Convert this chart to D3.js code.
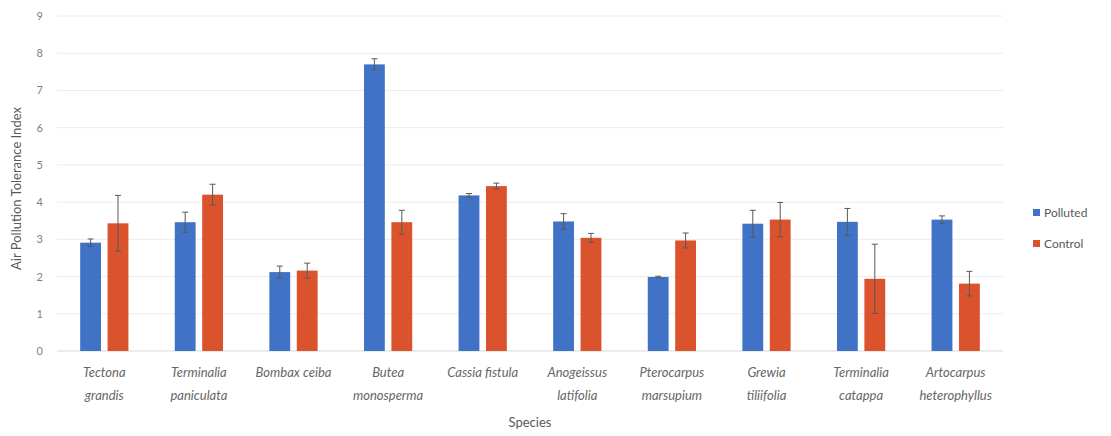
<!DOCTYPE html>
<html>
<head>
<meta charset="utf-8">
<script src="https://cdn.jsdelivr.net/npm/d3@7"></script>
<style>
  html, body { margin: 0; padding: 0; background: #fff; }
  svg { display: block; font-family: Lato, "Open Sans", sans-serif; }
</style>
</head>
<body>
<svg id="chart" width="1111" height="436"></svg>
<script>
// Species (two-line labels split on "\n")
const species = [
  "Tectona\ngrandis", "Terminalia\npaniculata", "Bombax ceiba", "Butea\nmonosperma",
  "Cassia fistula", "Anogeissus\nlatifolia", "Pterocarpus\nmarsupium", "Grewia\ntiliifolia",
  "Terminalia\ncatappa", "Artocarpus\nheterophyllus"
];
const seriesNames = ["Polluted", "Control"];
const polluted    = [2.91, 3.46, 2.12, 7.70, 4.18, 3.48, 1.99, 3.42, 3.47, 3.53];
const pollutedErr = [0.10, 0.27, 0.16, 0.15, 0.05, 0.21, 0.02, 0.36, 0.36, 0.10];
const control     = [3.43, 4.20, 2.16, 3.46, 4.43, 3.04, 2.97, 3.53, 1.94, 1.81];
const controlErr  = [0.75, 0.28, 0.20, 0.32, 0.08, 0.12, 0.20, 0.46, 0.93, 0.33];
const yTicks = [0, 1, 2, 3, 4, 5, 6, 7, 8, 9];

const colors = ["#4073C5", "#DA532C"];

const svg = d3.select("#chart");
const margin = { left: 57, right: 108, top: 16, bottom: 85 };
const W = 1111, H = 436;

const x = d3.scaleBand().domain(species).range([margin.left, W - margin.right]).paddingInner(0.49).paddingOuter(0.245);
const xInner = d3.scaleBand().domain(seriesNames).range([0, x.bandwidth()]).paddingInner(0.24);
const y = d3.scaleLinear().domain([0, 9]).range([H - margin.bottom, margin.top]);

// gridlines
svg.append("g")
  .selectAll("line").data(yTicks).join("line")
  .attr("x1", margin.left).attr("x2", W - margin.right)
  .attr("y1", d => y(d)).attr("y2", d => y(d))
  .attr("stroke", d => d === 0 ? "#d9d9d9" : "#ececec").attr("stroke-width", 1);

// y axis tick labels
const yAxis = svg.append("g")
  .attr("transform", `translate(${margin.left - 14},0)`)
  .call(d3.axisLeft(y).tickValues(yTicks).tickSize(0).tickPadding(0));
yAxis.select(".domain").remove();
yAxis.selectAll("text").attr("fill", "#7f7f7f").style("font-size", "11px").style("font-family", "Lato, sans-serif");

// bars
const data = species.map((s, i) => ({
  s, vals: [
    { k: "Polluted", v: polluted[i], e: pollutedErr[i] },
    { k: "Control", v: control[i], e: controlErr[i] }
  ]
}));

const groups = svg.append("g").selectAll("g").data(data).join("g")
  .attr("transform", d => `translate(${x(d.s)},0)`);

groups.selectAll("rect").data(d => d.vals).join("rect")
  .attr("x", d => xInner(d.k))
  .attr("width", xInner.bandwidth())
  .attr("y", d => y(d.v))
  .attr("height", d => y(0) - y(d.v))
  .attr("fill", (d, i) => colors[i]);

// error bars
const eb = groups.selectAll("g.err").data(d => d.vals).join("g").attr("class", "err")
  .attr("stroke", "#595959").attr("stroke-width", 1);
eb.append("line")
  .attr("x1", d => xInner(d.k) + xInner.bandwidth() / 2)
  .attr("x2", d => xInner(d.k) + xInner.bandwidth() / 2)
  .attr("y1", d => y(d.v + d.e)).attr("y2", d => y(d.v - d.e));
[1, -1].forEach(sg => {
  eb.append("line")
    .attr("x1", d => xInner(d.k) + xInner.bandwidth() / 2 - 3)
    .attr("x2", d => xInner(d.k) + xInner.bandwidth() / 2 + 3)
    .attr("y1", d => y(d.v + sg * d.e)).attr("y2", d => y(d.v + sg * d.e));
});

// x category labels
const xl = svg.append("g").selectAll("text").data(species).join("text")
  .attr("x", d => x(d) + x.bandwidth() / 2)
  .attr("y", 377)
  .attr("text-anchor", "middle")
  .attr("fill", "#666666")
  .style("font-size", "13px")
  .style("font-style", "italic");
xl.selectAll("tspan").data(d => d.split("\n")).join("tspan")
  .attr("x", function () { return d3.select(this.parentNode).attr("x"); })
  .attr("dy", (d, i) => i === 0 ? 0 : 23)
  .text(d => d);

// axis titles
svg.append("text")
  .attr("x", (margin.left + W - margin.right) / 2).attr("y", 427)
  .attr("text-anchor", "middle").attr("fill", "#595959")
  .style("font-size", "13px").text("Species");

svg.append("text")
  .attr("transform", `translate(21,${(y(0) + y(9)) / 2 + 5}) rotate(-90)`)
  .attr("text-anchor", "middle").attr("fill", "#595959")
  .style("font-size", "13px").text("Air Pollution Tolerance Index");

// legend
const leg = svg.append("g").selectAll("g").data(seriesNames).join("g")
  .attr("transform", (d, i) => `translate(1033,${214 + i * 31})`);
leg.append("rect").attr("x", 0).attr("y", -5).attr("width", 7).attr("height", 7)
  .attr("fill", (d, i) => colors[i]);
leg.append("text").attr("x", 11).attr("y", 3)
  .attr("fill", "#595959").style("font-size", "12px").text(d => d);
</script>
</body>
</html>
